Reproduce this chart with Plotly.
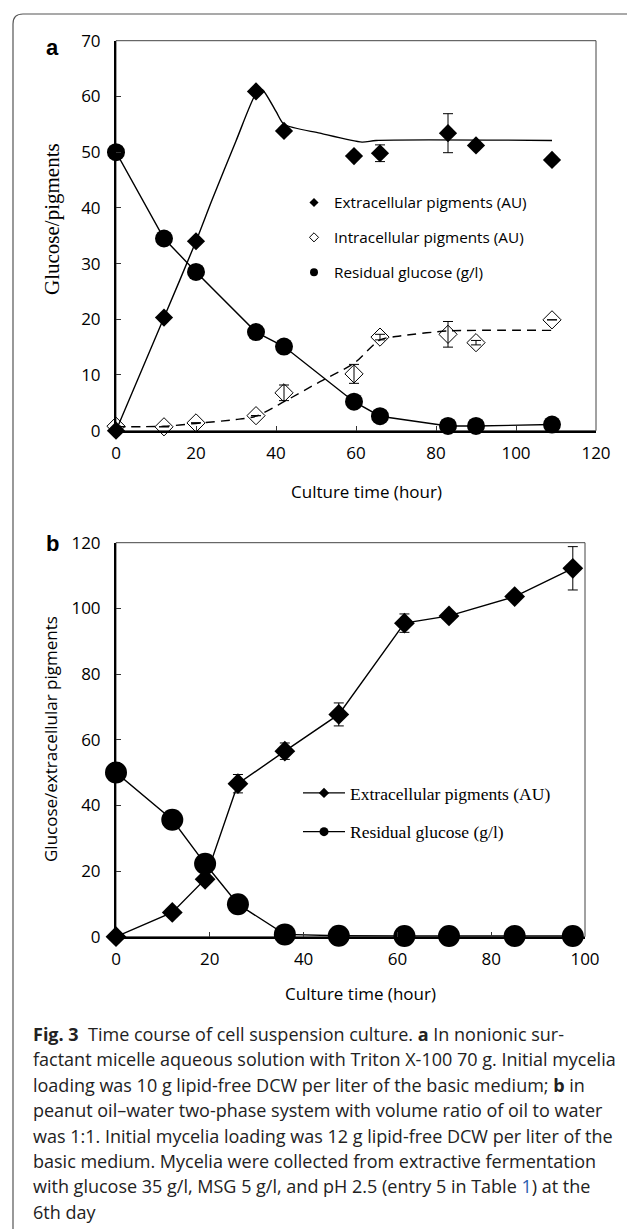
import plotly.graph_objects as go

W, H = 627, 1229

# ---------------- Panel a data ----------------
a_time_ext = [0, 12, 20, 35, 42, 59.5, 66, 83, 90, 109]
a_ext = [0, 20.3, 34.0, 60.9, 53.8, 49.3, 49.8, 53.4, 51.2, 48.6]
a_ext_err = [0, 0, 0, 0, 0, 0, 1.5, 3.5, 0, 0]

a_time_int = [0, 12, 20, 35, 42, 59.5, 66, 83, 90, 109]
a_int = [0.8, 0.7, 1.4, 2.7, 6.8, 10.2, 16.8, 17.3, 15.8, 19.9]
a_int_err = [0, 0, 0, 0, 1.4, 1.7, 0.5, 2.3, 0.4, 0]

a_time_glc = [0, 12, 20, 35, 42, 59.5, 66, 83, 90, 109]
a_glc = [50.0, 34.5, 28.5, 17.7, 15.1, 5.2, 2.6, 0.85, 0.85, 1.1]

# fitted curves (panel a)
a_fit_ext_t = [0, 12, 20, 24, 30, 35, 36.5, 40, 42, 51, 61.5, 65, 109]
a_fit_ext_v = [0, 20.3, 34, 41.4, 52, 60.5, 61.2, 57.3, 55, 53.4, 51.8, 52.1, 52.1]
a_fit_int_t = [0, 12, 20, 30, 35, 42, 51, 59.5, 66, 71, 83, 109]
a_fit_int_v = [0.7, 0.8, 1.3, 2.0, 2.6, 5.2, 8.8, 12.1, 16.3, 17.0, 17.9, 18.0]

# ---------------- Panel b data ----------------
b_time = [0, 12, 19, 26, 36, 47.5, 61.5, 71, 85, 97.4]
b_ext = [0, 7.4, 17.5, 46.6, 56.5, 67.7, 95.5, 97.7, 103.6, 112.2]
b_ext_err = [0, 0, 0, 2.8, 2.5, 3.5, 2.8, 0, 0, 6.6]
b_glc = [50.0, 35.6, 22.2, 9.9, 0.7, 0.3, 0.2, 0.2, 0.2, 0.2]

a_xticks = [0, 20, 40, 60, 80, 100, 120]
a_yticks = [0, 10, 20, 30, 40, 50, 60, 70]
b_xticks = [0, 20, 40, 60, 80, 100]
b_yticks = [0, 20, 40, 60, 80, 100, 120]

# ---------------- layout geometry (pixels) ----------------
def px(x):
    return x / W

def py(y):
    return 1 - y / H

A_L, A_R, A_T, A_B = 116, 596, 40.7, 430.7
B_L, B_R, B_T, B_B = 116, 585, 542.7, 936.7

SANS = "Open Sans"
SERIF = "Liberation Serif"

fig = go.Figure()

# Panel a fitted curves
fig.add_trace(go.Scatter(x=a_fit_ext_t, y=a_fit_ext_v, mode="lines",
                         line=dict(color="black", width=1.4, shape="spline", smoothing=0.7),
                         showlegend=False, xaxis="x", yaxis="y", hoverinfo="skip", cliponaxis=False))
fig.add_trace(go.Scatter(x=a_fit_int_t, y=a_fit_int_v, mode="lines",
                         line=dict(color="black", width=1.4, dash="9px,6px", shape="spline", smoothing=0.7),
                         showlegend=False, xaxis="x", yaxis="y", hoverinfo="skip", cliponaxis=False))
# glucose line + markers
fig.add_trace(go.Scatter(x=a_time_glc, y=a_glc, mode="lines+markers",
                         line=dict(color="black", width=1.4),
                         marker=dict(symbol="circle", size=18, color="black"),
                         showlegend=False, xaxis="x", yaxis="y", cliponaxis=False))
fig.add_trace(go.Scatter(x=a_time_int, y=a_int, mode="markers",
                         marker=dict(symbol="diamond-open", size=14, color="black", line=dict(width=1)),
                         error_y=dict(type="data", array=a_int_err, color="black", thickness=1, width=5),
                         showlegend=False, xaxis="x", yaxis="y", cliponaxis=False))
fig.add_trace(go.Scatter(x=a_time_ext, y=a_ext, mode="markers",
                         marker=dict(symbol="diamond", size=14, color="black"),
                         error_y=dict(type="data", array=a_ext_err, color="black", thickness=1, width=5),
                         showlegend=False, xaxis="x", yaxis="y", cliponaxis=False))

# legend-only entries panel a
fig.add_trace(go.Scatter(x=[None], y=[None], mode="markers", name="Extracellular pigments (AU)",
                         marker=dict(symbol="diamond", size=7, color="black"),
                         legend="legend", legendgroup="a1", xaxis="x", yaxis="y"))
fig.add_trace(go.Scatter(x=[None], y=[None], mode="markers", name="Intracellular pigments (AU)",
                         marker=dict(symbol="diamond-open", size=7, color="black", line=dict(width=1)),
                         legend="legend", legendgroup="a2", xaxis="x", yaxis="y"))
fig.add_trace(go.Scatter(x=[None], y=[None], mode="markers", name="Residual glucose (g/l)",
                         marker=dict(symbol="circle", size=8, color="black"),
                         legend="legend", legendgroup="a3", xaxis="x", yaxis="y"))

# Panel b
fig.add_trace(go.Scatter(x=b_time, y=b_ext, mode="lines+markers",
                         line=dict(color="black", width=1.4),
                         marker=dict(symbol="diamond", size=16, color="black"),
                         error_y=dict(type="data", array=b_ext_err, color="black", thickness=1, width=5),
                         showlegend=False, xaxis="x2", yaxis="y2", cliponaxis=False))
fig.add_trace(go.Scatter(x=b_time, y=b_glc, mode="lines+markers",
                         line=dict(color="black", width=1.4),
                         marker=dict(symbol="circle", size=22, color="black"),
                         showlegend=False, xaxis="x2", yaxis="y2", cliponaxis=False))

fig.add_trace(go.Scatter(x=[None], y=[None], mode="lines+markers", name="Extracellular pigments (AU)",
                         line=dict(color="black", width=1.4),
                         marker=dict(symbol="diamond", size=8, color="black"),
                         legend="legend2", legendgroup="b1", xaxis="x2", yaxis="y2"))
fig.add_trace(go.Scatter(x=[None], y=[None], mode="lines+markers", name="Residual glucose (g/l)",
                         line=dict(color="black", width=1.4),
                         marker=dict(symbol="circle", size=9, color="black"),
                         legend="legend2", legendgroup="b2", xaxis="x2", yaxis="y2"))

tickfont = dict(family=SANS, size=17, color="black")

def xaxis(dom, rng, ticks, anchor):
    return dict(domain=dom, range=rng, tickvals=ticks, ticktext=[str(t) for t in ticks],
                showline=True, linewidth=2, linecolor="black", showgrid=False, zeroline=False,
                ticks="inside", ticklen=5, tickwidth=1, tickcolor="#333", automargin=False,
                tickfont=tickfont, anchor=anchor, fixedrange=True, ticklabelstandoff=6)

def yaxis(dom, rng, ticks, anchor):
    return dict(domain=dom, range=rng, tickvals=ticks, ticktext=[str(t) for t in ticks],
                showline=True, linewidth=2, linecolor="black", showgrid=False, zeroline=False,
                ticks="inside", ticklen=5, tickwidth=1, tickcolor="#333", automargin=False,
                tickfont=tickfont, anchor=anchor, fixedrange=True, ticklabelstandoff=10)

annotations = [
    dict(text="<b>a</b>", x=px(52), y=py(47), xref="paper", yref="paper", showarrow=False,
         xanchor="center", yanchor="middle",
         font=dict(family="Liberation Sans", size=22, color="black")),
    dict(text="<b>b</b>", x=px(52), y=py(543), xref="paper", yref="paper", showarrow=False,
         xanchor="center", yanchor="middle",
         font=dict(family="Liberation Sans", size=22, color="black")),
    dict(text="Glucose/pigments", x=px(52), y=py(219), xref="paper", yref="paper", showarrow=False,
         xanchor="center", yanchor="middle",
         textangle=-90, font=dict(family=SERIF, size=21, color="black")),
    dict(text="Culture time (hour)", x=px(366), y=py(492), xref="paper", yref="paper", showarrow=False,
         xanchor="center", yanchor="middle",
         font=dict(family=SANS, size=17, color="black")),
    dict(text="Glucose/extracellular pigments", x=px(50), y=py(739), xref="paper", yref="paper",
         xanchor="center", yanchor="middle",
         showarrow=False, textangle=-90, font=dict(family=SANS, size=17, color="black")),
    dict(text="Culture time (hour)", x=px(360), y=py(993), xref="paper", yref="paper", showarrow=False,
         xanchor="center", yanchor="middle",
         font=dict(family=SANS, size=17, color="black")),
]

caption_lines = [
    "<b>Fig. 3</b>  Time course of cell suspension culture. <b>a</b> In nonionic sur-",
    "factant micelle aqueous solution with Triton X-100 70 g. Initial mycelia",
    "loading was 10 g lipid-free DCW per liter of the basic medium; <b>b</b> in",
    "peanut oil–water two-phase system with volume ratio of oil to water",
    "was 1:1. Initial mycelia loading was 12 g lipid-free DCW per liter of the",
    "basic medium. Mycelia were collected from extractive fermentation",
    "with glucose 35 g/l, MSG 5 g/l, and pH 2.5 (entry 5 in Table <span style='color:#2a5db0'>1</span>) at the",
    "6th day",
]
for i, line in enumerate(caption_lines):
    annotations.append(dict(text=line, x=px(31), y=py(1034 + 25.4 * i), xref="paper", yref="paper",
                            xanchor="left", yanchor="middle", showarrow=False,
                            font=dict(family="Open Sans", size=18, color="#222")))

r = 10
frame_path = (f"M {px(13)},0 L {px(13)},{py(14 + r)} Q {px(13)},{py(14)} {px(13 + r)},{py(14)} "
              f"L 1,{py(14)}")

shapes = [
    dict(type="path", path=frame_path, xref="paper", yref="paper",
         line=dict(color="#555", width=1.2)),
    dict(type="rect", xref="x domain", yref="y domain", x0=0, x1=1, y0=0, y1=1,
         line=dict(color="#444", width=1), layer="below"),
    dict(type="rect", xref="x2 domain", yref="y2 domain", x0=0, x1=1, y0=0, y1=1,
         line=dict(color="#444", width=1), layer="below"),
]

fig.update_layout(
    width=W, height=H, autosize=False,
    margin=dict(l=0, r=0, t=0, b=0, pad=0, autoexpand=False),
    paper_bgcolor="white", plot_bgcolor="white",
    xaxis=xaxis([px(A_L), px(A_R)], [0, 120], a_xticks, "y"),
    yaxis=yaxis([py(A_B), py(A_T)], [0, 70], a_yticks, "x"),
    xaxis2=xaxis([px(B_L), px(B_R)], [0, 100], b_xticks, "y2"),
    yaxis2=yaxis([py(B_B), py(B_T)], [0, 120], b_yticks, "x2"),
    legend=dict(x=px(294), y=py(186), xanchor="left", yanchor="top", bgcolor="rgba(0,0,0,0)",
                font=dict(family=SANS, size=15.3, color="black"), tracegroupgap=12,
                itemsizing="trace"),
    legend2=dict(x=px(298), y=py(775), xanchor="left", yanchor="top", bgcolor="rgba(0,0,0,0)",
                 font=dict(family=SERIF, size=17.5, color="black"), tracegroupgap=13,
                 itemwidth=42, itemsizing="trace"),
    annotations=annotations,
    shapes=shapes,
    showlegend=True,
)

fig.write_html(
    "out.html",
    config={"responsive": False, "displayModeBar": False},
    post_script="document.body.style.margin='0';document.body.style.overflow='hidden';",
)
